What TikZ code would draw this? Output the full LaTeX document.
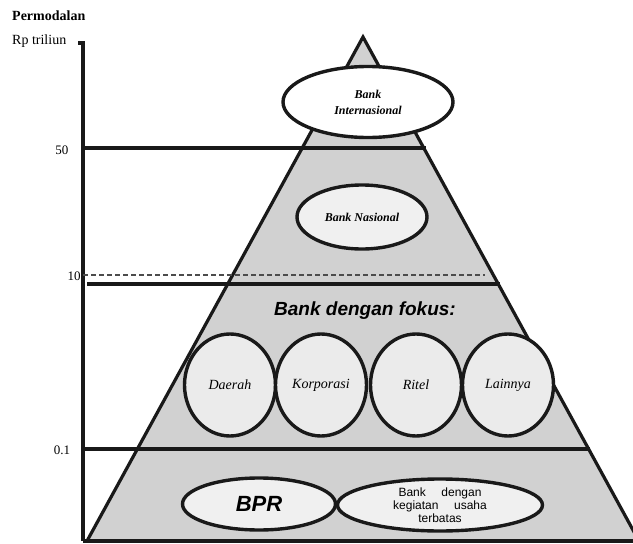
\documentclass[tikz,border=0pt]{standalone}
\usepackage{fontspec}
\setmainfont{Liberation Serif}
\setsansfont{Liberation Sans}
\usetikzlibrary{shapes.geometric}
\begin{document}
\begin{tikzpicture}[x=1pt,y=-1pt,
  thickline/.style={line width=3.2pt, draw=black!90},
  oval/.style={ellipse, draw=black!90, line width=3.4pt, inner sep=0pt, align=center},
  axlabel/.style={inner sep=0pt, font=\fontsize{13}{15}\selectfont},
  seriflabel/.style={font=\bfseries\itshape\fontsize{12}{16}\selectfont},
  circlabel/.style={font=\itshape\fontsize{14}{16}\selectfont}
]
\useasboundingbox (0,0) rectangle (633,544);
\clip (0,0) rectangle (633,544);
\fill[white] (0,0) rectangle (633,544);

% pyramid
\coordinate (apex) at (363,37);
\coordinate (bl) at (87,541);
\coordinate (br) at (639,541);
\filldraw[fill=black!18, thickline, line join=miter] (bl) -- (apex) -- (br) -- cycle;

% axis
\draw[thickline] (78,43) -- (83,43) -- (83,541);
\draw[thickline] (83,541) -- (640,541);

% level lines
\draw[thickline] (83,148) -- (426,148);
\draw[line width=1.2pt, black!70, dash pattern=on 5pt off 3pt] (83,275) -- (485,275);
\draw[thickline] (87,284) -- (500,284);
\draw[thickline] (83,449) -- (590,449);

% axis texts
\node[axlabel, font=\bfseries\fontsize{14}{16}\selectfont, anchor=west] (perm) at (12,16) {Permodalan};
\node[axlabel, font=\fontsize{14}{16}\selectfont, anchor=west] (rp) at (12,41) {Rp triliun};
\node[axlabel] (l50) at (62,150) {50};
\node[axlabel] (l10) at (74,276) {10};
\node[axlabel] (l01) at (62,450) {0.1};

% ellipses
\node[oval, fill=white, minimum width=170pt, minimum height=71pt, seriflabel] (intl) at (368,102) {Bank\\Internasional};
\node[oval, fill=black!6, minimum width=130pt, minimum height=64pt, seriflabel] (nas) at (362,217) {Bank Nasional};

\node[font=\sffamily\bfseries\itshape\fontsize{19}{22}\selectfont, inner sep=0pt] (fokus) at (365,311) {Bank dengan fokus:};

\node[oval, fill=black!8, minimum width=91pt, minimum height=102pt, circlabel] (daerah) at (230,385) {Daerah};
\node[oval, fill=black!8, minimum width=91pt, minimum height=102pt, circlabel] (korp) at (321,385) {Korporasi};
\node[oval, fill=black!8, minimum width=91pt, minimum height=102pt, circlabel] (ritel) at (416,385) {Ritel};
\node[oval, fill=black!8, minimum width=91pt, minimum height=102pt, circlabel] (lain) at (508,385) {Lainnya};

\node[oval, fill=black!6, minimum width=153pt, minimum height=52pt, font=\sffamily\bfseries\itshape\fontsize{22}{24}\selectfont] (bpr) at (259,504) {BPR};
\node[oval, fill=black!6, minimum width=205pt, minimum height=52pt, font=\sffamily\fontsize{12}{13}\selectfont] (terb) at (440,505) {Bank\hspace{1.3em}dengan\\kegiatan\hspace{1.3em}usaha\\terbatas};
\end{tikzpicture}
\end{document}
